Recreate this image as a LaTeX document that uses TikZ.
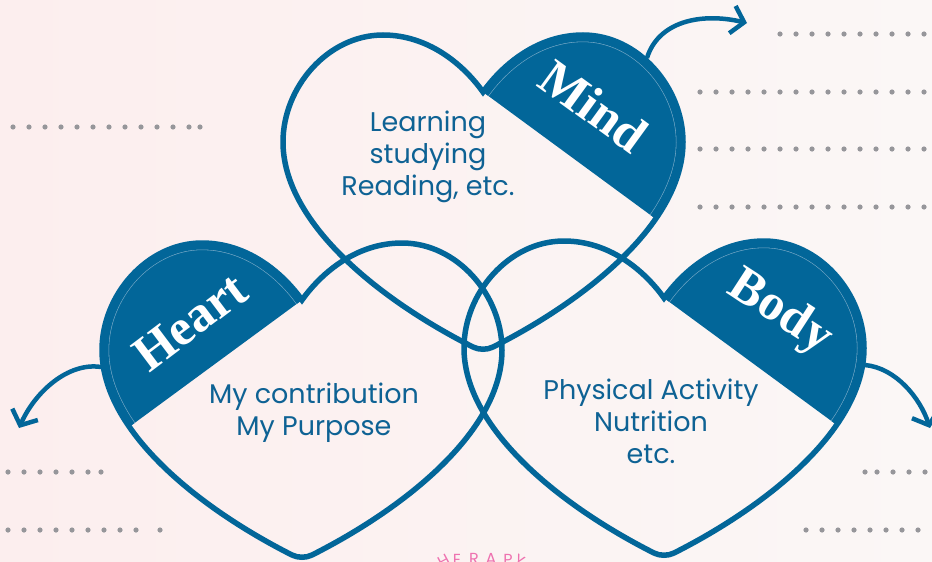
\documentclass[tikz,border=0pt]{standalone}
\usepackage{fontspec}
\setmainfont{Poppins}
\newfontfamily\headfont{Liberation Serif}
\usetikzlibrary{arrows.meta}

\definecolor{deepblue}{RGB}{2,102,153}
\definecolor{inkblue}{RGB}{14,98,148}
\definecolor{dotgrey}{RGB}{150,150,154}
\definecolor{bgleft}{RGB}{252,238,238}
\definecolor{bgright}{RGB}{251,247,246}
\definecolor{rosepink}{RGB}{238,114,176}
\definecolor{capring}{RGB}{120,170,200}

\tikzset{
  heartshape/.style={insert path={
    (0,0) .. controls (-20,-28) and (-55,-57) .. (-100,-57)
          .. controls (-155,-57) and (-200,-5) .. (-200,50)
          .. controls (-200,130) and (-105,207) .. (-10,255)
          .. controls (-4,258) and (4,258) .. (10,255)
          .. controls (105,207) and (200,130) .. (200,50)
          .. controls (200,-5) and (155,-57) .. (100,-57)
          .. controls (55,-57) and (20,-28) .. (0,0) -- cycle}},
  capregion/.style={insert path={(0,0) -- (260,191) -- (260,-80) -- (0,-80) -- cycle}},
  outline/.style={draw=deepblue, line width=5.5pt, line join=miter},
  ringline/.style={draw=capring, line width=14.2pt},
  ringfill/.style={draw=deepblue, line width=13pt},
  bodytext/.style={text=inkblue, align=center, inner sep=0pt,
    font=\fontsize{27}{32}\selectfont},
  headlabel/.style={text=white, inner sep=0pt,
    font=\headfont\bfseries\fontsize{51}{51}\selectfont},
  swoosh/.style={draw=deepblue, line width=4.5pt,
    -{Straight Barb[length=12pt, width=28pt]}},
  dotmark/.style={fill=dotgrey},
  arcletter/.style={text=rosepink, inner sep=0pt, anchor=north,
    font=\fontsize{16}{16}\selectfont},
}

% filled lobe of a heart, cut by the chord from the notch
\newcommand\heartcap[2]{%
  \begin{scope}[shift={#1}, xscale=#2]
    \clip[heartshape];
    \fill[deepblue, capregion];
    \begin{scope}
      \clip[capregion];
      \draw[ringline, heartshape];
      \draw[ringfill, heartshape];
    \end{scope}
  \end{scope}}

\begin{document}
\begin{tikzpicture}[x=1pt, y=-1pt]
  \useasboundingbox (0,0) rectangle (932,562);
  \shade[left color=bgleft, right color=bgright] (0,0) rectangle (932,562);

  % dotted rules
  \foreach \x in {780,796,...,926} \fill[dotmark] (\x,34) circle (2.6);
  \foreach \y in {92,149,207} {
    \foreach \x in {700,716,...,926} \fill[dotmark] (\x,\y) circle (2.6);
  }
  \foreach \x in {13,29,...,190,200} \fill[dotmark] (\x,127) circle (2.6);
  \foreach \x in {8,24,...,90,101} \fill[dotmark] (\x,472) circle (2.6);
  \foreach \x in {8,24,...,150,160} \fill[dotmark] (\x,530) circle (2.6);
  \foreach \x in {865,877,893,909,925} \fill[dotmark] (\x,472) circle (2.6);
  \foreach \x in {806,822,...,926} \fill[dotmark] (\x,530) circle (2.6);

  % lettering along the arc at the foot
  \node[arcletter, rotate=28] (arcH) at (441,556) {H};
  \node[arcletter] (arcE) at (457,554) {E};
  \node[arcletter] (arcR) at (474,553) {R};
  \node[arcletter] (arcA) at (491,553) {A};
  \node[arcletter] (arcP) at (508,554) {P};
  \node[arcletter, rotate=-28] (arcY) at (522,556) {Y};

  % filled lobes
  \heartcap{(483,92)}{1}
  \heartcap{(302,300)}{-1}
  \heartcap{(664,298)}{1}

  % heart outlines
  \draw[outline, shift={(483,92)}, heartshape];
  \draw[outline, shift={(302,300)}, heartshape];
  \draw[outline, shift={(664,298)}, heartshape];

  % arrow anchors on the outlines
  \coordinate (mindout) at (647,58);
  \coordinate (mindend) at (747,23);
  \coordinate (heartout) at (101,367);
  \coordinate (heartend) at (19,428);
  \coordinate (bodyout) at (865,365);
  \coordinate (bodyend) at (930,428);

  \draw[swoosh] (mindout) .. controls (658,22) and (700,12) .. (mindend);
  \draw[swoosh] (heartout) .. controls (68,362) and (35,392) .. (heartend);
  \draw[swoosh] (bodyout) .. controls (896,368) and (920,398) .. (bodyend);

  % labels
  \node[headlabel, rotate=-36] (mindlbl) at (594,106) {Mind};
  \node[headlabel, rotate=37] (heartlbl) at (190,322) {Heart};
  \node[headlabel, rotate=-33] (bodylbl) at (780,313) {Body};

  % texts
  \node[bodytext] (mindtxt) at (428,157) {Learning\\studying\\Reading, etc.};
  \node[bodytext] (hearttxt) at (314,413) {My contribution\\My Purpose};
  \node[bodytext] (bodytxt) at (651,421) {Physical Activity\\Nutrition\\etc.};
\end{tikzpicture}
\end{document}
